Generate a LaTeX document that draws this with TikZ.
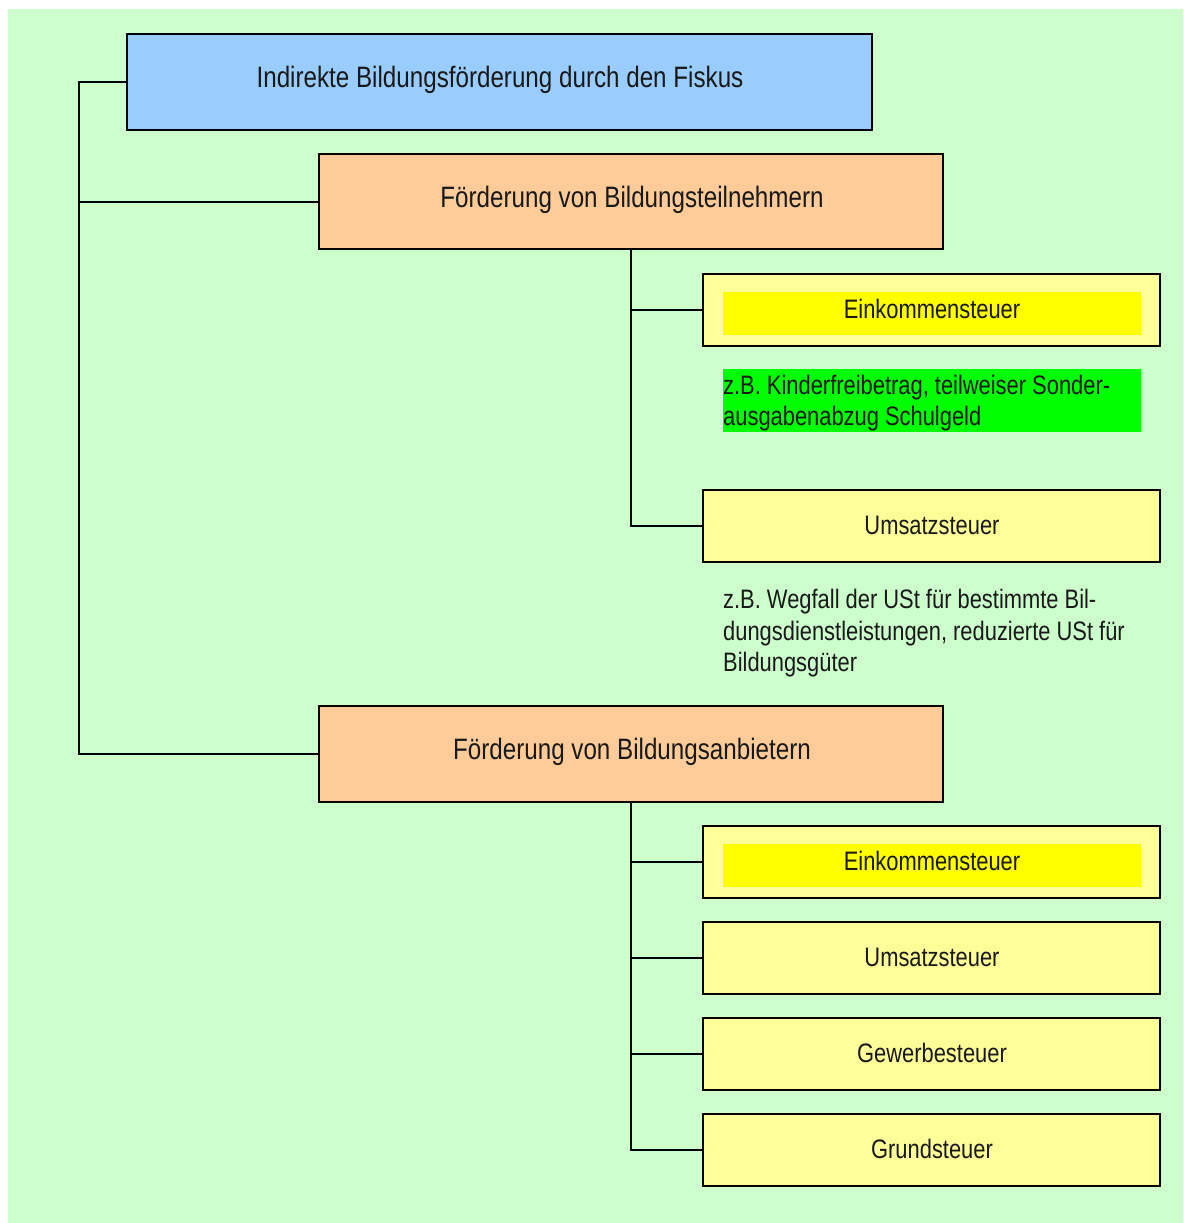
\documentclass[tikz,border=0pt]{standalone}
\usepackage{fontspec}
\setmainfont{Liberation Sans}[FakeStretch=0.82]
\definecolor{bg}{HTML}{CCFFCC}
\definecolor{topblue}{HTML}{99CCFF}
\definecolor{orangebox}{HTML}{FFCC99}
\definecolor{paleyellow}{HTML}{FFFF99}
\definecolor{hiyellow}{HTML}{FFFF00}
\definecolor{higreen}{HTML}{00FF00}
\begin{document}
\begin{tikzpicture}[x=1pt,y=-1pt,
  every node/.style={font=\fontsize{26.7}{31.5}\selectfont, inner sep=0pt, text=black!90},
  bigtext/.style={font=\fontsize{29.5}{34}\selectfont},
  box/.style={draw=black, line width=2pt, rectangle},
  mainbox/.style={box, fill=topblue, minimum width=745pt, minimum height=96pt},
  catbox/.style={box, fill=orangebox, minimum width=624pt, minimum height=95pt},
  taxbox/.style={box, fill=paleyellow, minimum width=457pt, minimum height=72pt},
  hibox/.style={rectangle, fill=hiyellow, minimum width=418pt, minimum height=43pt},
  conn/.style={draw=black, line width=2pt}
]
\useasboundingbox (0,0) rectangle (1183,1223);
\fill[white] (0,0) rectangle (1183,1223);
\fill[bg] (8,9) rectangle (1183,1223);

\node[mainbox] (top) at (499.5,82) {};
\node[bigtext] at (500,80) {Indirekte Bildungsförderung durch den Fiskus};

\node[catbox] (b2) at (631,201.5) {};
\node[bigtext] at (632,200) {Förderung von Bildungsteilnehmern};

\node[taxbox] (e1) at (931.5,310) {};
\node[hibox] (e1h) at (932,313.5) {};
\node at (932,309) {Einkommensteuer};

\node[rectangle, fill=higreen, minimum width=418pt, minimum height=63pt] (g1) at (932,400.5) {};
\node[anchor=west, align=left] (g1t) at (723,403) {z.B. Kinderfreibetrag, teilweiser Sonder-\\ausgabenabzug Schulgeld};

\node[taxbox] (u1) at (931.5,526) {};
\node at (932,525) {Umsatzsteuer};

\node[anchor=west, align=left] (u1t) at (723,633.5) {z.B. Wegfall der USt für bestimmte Bil-\\dungsdienstleistungen, reduzierte USt für\\Bildungsgüter};

\node[catbox, minimum height=96pt] (b3) at (631,754) {};
\node[bigtext] at (632,752) {Förderung von Bildungsanbietern};

\node[taxbox] (e2) at (931.5,862) {};
\node[hibox] (e2h) at (932,865.5) {};
\node at (932,861) {Einkommensteuer};

\node[taxbox] (u2) at (931.5,958) {};
\node at (932,957) {Umsatzsteuer};

\node[taxbox] (gw) at (931.5,1054) {};
\node at (932,1053) {Gewerbesteuer};

\node[taxbox] (gr) at (931.5,1150) {};
\node at (932,1149) {Grundsteuer};

\coordinate (t0) at (79,82);
\coordinate (t3) at (79,754);
\draw[conn] (top.west) -- (t0) -- (t3) -- (b3.west);
\draw[conn] (b2.west) -- (b2.west -| t0);

\draw[conn] (b2.south) |- (e1.west);
\draw[conn] (b2.south) |- (u1.west);

\draw[conn] (b3.south) |- (e2.west);
\draw[conn] (b3.south) |- (u2.west);
\draw[conn] (b3.south) |- (gw.west);
\draw[conn] (b3.south) |- (gr.west);
\end{tikzpicture}
\end{document}
